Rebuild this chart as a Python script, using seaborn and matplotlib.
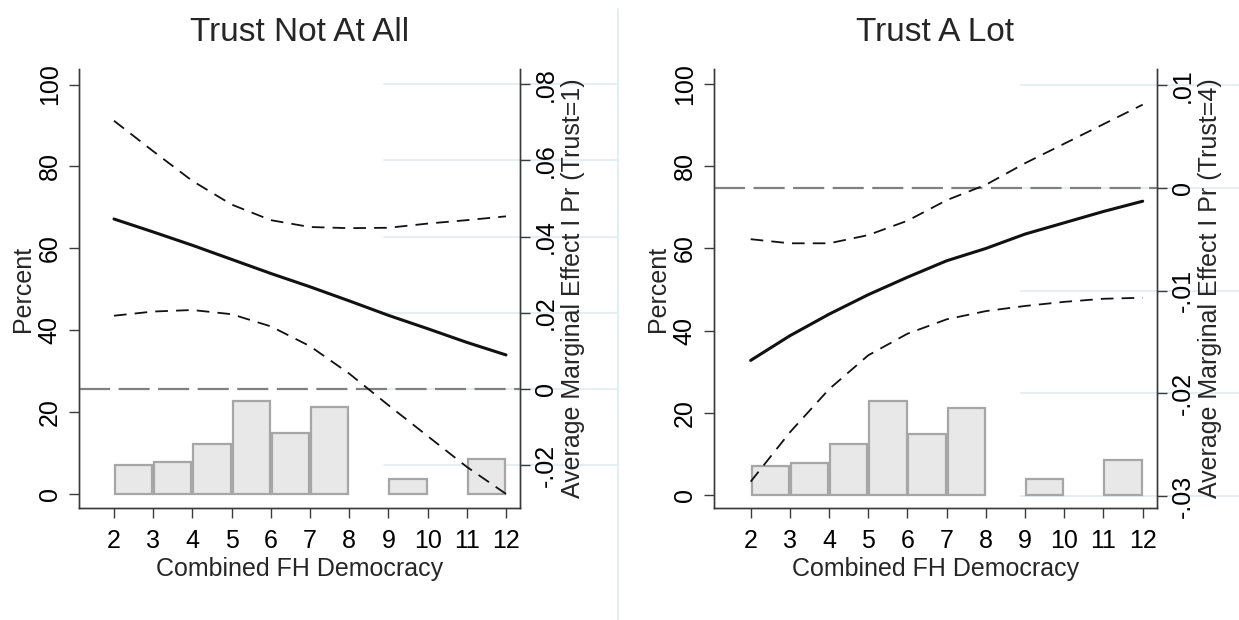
import numpy as np
import pandas as pd
import matplotlib
matplotlib.use("Agg")
import matplotlib.pyplot as plt
from matplotlib.lines import Line2D
from matplotlib.transforms import blended_transform_factory
import seaborn as sns

# ---- data -------------------------------------------------------------
democracy = [2, 3, 4, 5, 6, 7, 8, 9, 10, 11, 12]

# distribution of observations over democracy (unit-wide bins, left edges)
bin_left = [2, 3, 4, 5, 6, 7, 9, 11]
bin_pct = [7.1, 7.8, 12.3, 22.8, 14.9, 21.2, 3.8, 8.6]

# average marginal effect on Pr(Trust=1) with 95% bounds
ame_not = [0.0446, 0.0412, 0.0377, 0.0340, 0.0303, 0.0268, 0.0231, 0.0193, 0.0158, 0.0122, 0.0089]
hi_not = [0.0704, 0.0624, 0.0546, 0.0484, 0.0443, 0.0425, 0.0422, 0.0423, 0.0434, 0.0443, 0.0453]
lo_not = [0.0192, 0.0203, 0.0207, 0.0196, 0.0164, 0.0112, 0.0040, -0.0043, -0.0124, -0.0205, -0.0276]

# average marginal effect on Pr(Trust=4) with 95% bounds
ame_lot = [-0.0168, -0.0144, -0.0123, -0.0104, -0.0087, -0.0071, -0.0059, -0.0045, -0.0034, -0.0023, -0.0013]
hi_lot = [-0.0050, -0.0054, -0.0054, -0.0046, -0.0032, -0.0012, 0.0003, 0.0024, 0.0043, 0.0062, 0.0081]
lo_lot = [-0.0286, -0.0238, -0.0196, -0.0163, -0.0142, -0.0128, -0.0120, -0.0115, -0.0111, -0.0108, -0.0107]

pct_ticks = [0, 20, 40, 60, 80, 100]
ame_ticks_not = [0.08, 0.06, 0.04, 0.02, 0.0, -0.02]
ame_labels_not = [".08", ".06", ".04", ".02", "0", "-.02"]
ame_ticks_lot = [0.01, 0.0, -0.01, -0.02, -0.03]
ame_labels_lot = [".01", "0", "-.01", "-.02", "-.03"]

titles = ["Trust Not At All", "Trust A Lot"]
right_labels = ["Average Marginal Effect I Pr (Trust=1)",
                "Average Marginal Effect I Pr (Trust=4)"]
x_label = "Combined FH Democracy"

hist_df = pd.DataFrame({"mid": [b + 0.5 for b in bin_left], "pct": bin_pct})
hist_edges = list(range(2, 13))

# ---- style ------------------------------------------------------------
sns.set_style("ticks")
plt.rcParams["font.family"] = ["Liberation Sans", "DejaVu Sans"]
AXIS_COL = "#3a3a3a"
GRID_COL = "#e2eef2"
BAR_FACE = "#e8e8e8"
BAR_EDGE = "#a6a6a6"

fig = plt.figure(figsize=(12.39, 6.20), dpi=100)
fig.patch.set_facecolor("white")


def draw_panel(rect, xlim, pct_lim, ame_lim, title, ame, lo, hi,
               ame_ticks, ame_labels, ylab_right, grid_end):
    ax = fig.add_axes(rect)
    ax2 = ax.twinx()

    # histogram of the moderator on the percent axis
    sns.histplot(data=hist_df, x="mid", weights="pct",
                 bins=hist_edges, ax=ax, shrink=0.95,
                 color=BAR_FACE, edgecolor=BAR_EDGE, linewidth=1.6,
                 alpha=1.0, zorder=1)
    for p in list(ax.patches):
        if p.get_height() == 0:
            p.remove()

    # light reference rules at the marginal-effect ticks
    gtr = blended_transform_factory(ax.transData, ax2.transData)
    for t in ame_ticks:
        ax.plot([8.9, grid_end], [t, t], transform=gtr, color=GRID_COL,
                lw=1.3, zorder=0.5, clip_on=False)

    # zero line and marginal-effect curves
    ax2.axhline(0, color="#808080", lw=1.6, linestyle=(0, (14, 3.8)), zorder=1.5)
    sns.lineplot(x=democracy, y=hi, ax=ax2, color="#111111", lw=1.3,
                 linestyle=(0, (7, 4.5)), zorder=2)
    sns.lineplot(x=democracy, y=lo, ax=ax2, color="#111111", lw=1.3,
                 linestyle=(0, (7, 4.5)), zorder=2)
    sns.lineplot(x=democracy, y=ame, ax=ax2, color="#111111", lw=2.2,
                 zorder=3)

    ax.set_xlim(*xlim)
    ax.set_ylim(*pct_lim)
    ax2.set_ylim(*ame_lim)

    ax.set_xticks(democracy)
    ax.set_yticks(pct_ticks)
    ax2.set_yticks(ame_ticks, ame_labels)

    for a in (ax, ax2):
        a.spines["top"].set_visible(False)
        for s in ("left", "right", "bottom"):
            a.spines[s].set_color(AXIS_COL)
            a.spines[s].set_linewidth(1.0)
        a.tick_params(axis="both", length=7, width=1.0, color=AXIS_COL,
                      labelsize=18, labelcolor="black", direction="out")
    ax.tick_params(axis="x", pad=8)
    ax.tick_params(axis="y", pad=5.5)
    ax2.tick_params(axis="y", pad=3)
    for lab in ax.get_yticklabels():
        lab.set_rotation(90)
        lab.set_va("center")
    for lab in ax2.get_yticklabels():
        lab.set_rotation(90)
        lab.set_va("center")

    ax.set_xlabel(x_label, fontsize=18, labelpad=3)
    ax.set_ylabel("Percent", fontsize=18, labelpad=2)
    ax2.set_ylabel(ylab_right, fontsize=18, labelpad=2)
    ax.set_title(title, fontsize=24, pad=20)
    ax.grid(False)
    ax2.grid(False)
    return ax, ax2


draw_panel([79 / 1239, 1 - 508 / 620, 441 / 1239, 439 / 620],
           (1.107, 12.357), (-3.4, 103.8), (-0.0313, 0.0840),
           titles[0], ame_not, lo_not, hi_not,
           ame_ticks_not, ame_labels_not, right_labels[0], 14.83)

draw_panel([714 / 1239, 1 - 508 / 620, 443 / 1239, 439 / 620],
           (1.064, 12.365), (-3.2, 103.7), (-0.03117, 0.01157),
           titles[1], ame_lot, lo_lot, hi_lot,
           ame_ticks_lot, ame_labels_lot, right_labels[1], 14.46)

# thin divider between the two panels
fig.add_artist(Line2D([618 / 1239, 618 / 1239], [0, 0.985],
                      transform=fig.transFigure, color=GRID_COL, lw=1.4))

fig.savefig("out.png", dpi=100, facecolor="white")
